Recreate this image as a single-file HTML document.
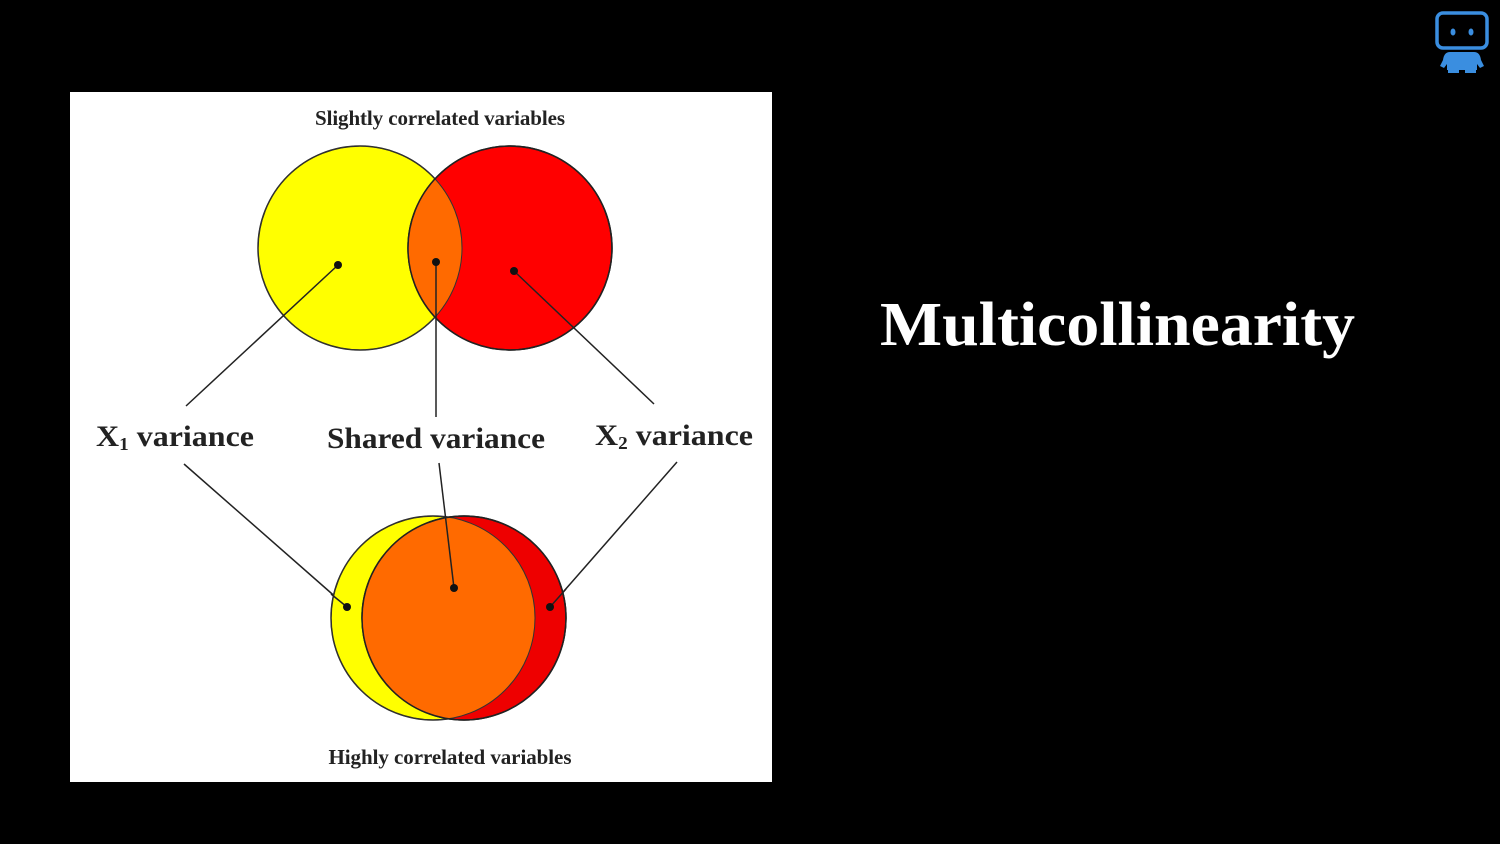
<!DOCTYPE html>
<html><head><style>
html,body{margin:0;padding:0;background:#000;width:1500px;height:844px;overflow:hidden}
</style></head><body>
<svg width="1500" height="844" xmlns="http://www.w3.org/2000/svg" style="position:absolute;left:0;top:0">
<defs>
<clipPath id="cy1"><circle cx="360" cy="248" r="102"/></clipPath>
<clipPath id="cy2"><circle cx="433" cy="618" r="102"/></clipPath>
</defs>
<rect x="70" y="92" width="702" height="690" fill="#fff"/>
<text x="440" y="125" text-anchor="middle" font-family="Liberation Serif, serif" font-size="21" font-weight="bold" fill="#222" textLength="250">Slightly correlated variables</text>
<circle cx="360" cy="248" r="102" fill="#ffff00" stroke="#222" stroke-width="1.5"/>
<circle cx="510" cy="248" r="102" fill="#ff0000" stroke="#222" stroke-width="1.5"/>
<circle cx="510" cy="248" r="102" fill="#ff6a00" clip-path="url(#cy1)"/>
<circle cx="360" cy="248" r="102" fill="none" stroke="#333" stroke-width="1"/>
<circle cx="510" cy="248" r="102" fill="none" stroke="#222" stroke-width="1.5"/>
<g stroke="#222" stroke-width="1.5">
<line x1="186" y1="406" x2="338" y2="265"/>
<line x1="436" y1="262" x2="436" y2="417"/>
<line x1="514" y1="271" x2="654" y2="404"/>
<line x1="184" y1="464" x2="347" y2="607"/>
<line x1="677" y1="462" x2="550" y2="607"/>
</g>
<g fill="#111">
<circle cx="338" cy="265" r="4"/><circle cx="436" cy="262" r="4"/><circle cx="514" cy="271" r="4"/>
</g>
<circle cx="433" cy="618" r="102" fill="#ffff00" stroke="#222" stroke-width="1.5"/>
<circle cx="464" cy="618" r="102" fill="#ee0000" stroke="#222" stroke-width="1.5"/>
<circle cx="464" cy="618" r="102" fill="#ff6a00" clip-path="url(#cy2)"/>
<circle cx="433" cy="618" r="102" fill="none" stroke="#333" stroke-width="1"/>
<circle cx="464" cy="618" r="102" fill="none" stroke="#222" stroke-width="1.5"/>
<g stroke="#222" stroke-width="1.5">
<line x1="331" y1="594" x2="347" y2="607"/>
<line x1="566" y1="589" x2="550" y2="607"/>
<line x1="439" y1="463" x2="454" y2="588"/>
</g>
<g fill="#111"><circle cx="347" cy="607" r="4"/><circle cx="454" cy="588" r="4"/><circle cx="550" cy="607" r="4"/></g>
<g font-family="Liberation Serif, serif" font-size="30" font-weight="bold" fill="#222">
<text x="96" y="446" textLength="158" lengthAdjust="spacingAndGlyphs">X<tspan font-size="18" dy="4">1</tspan><tspan dy="-4"> variance</tspan></text>
<text x="327" y="448" textLength="218" lengthAdjust="spacingAndGlyphs">Shared variance</text>
<text x="595" y="445" textLength="158" lengthAdjust="spacingAndGlyphs">X<tspan font-size="18" dy="4">2</tspan><tspan dy="-4"> variance</tspan></text>
</g>
<text x="450" y="764" text-anchor="middle" font-family="Liberation Serif, serif" font-size="21" font-weight="bold" fill="#222" textLength="243">Highly correlated variables</text>
<text x="880" y="345" font-family="Liberation Serif, serif" font-size="62" font-weight="bold" fill="#fff" textLength="475" lengthAdjust="spacingAndGlyphs">Multicollinearity</text>
<g fill="#3a8ee0">
<rect x="1437" y="13" width="50" height="35" rx="6" fill="none" stroke="#3a8ee0" stroke-width="3.5"/>
<ellipse cx="1453" cy="32" rx="2.5" ry="3.5"/><ellipse cx="1471" cy="32" rx="2.5" ry="3.5"/>
<path d="M1450 52 H1474 Q1480 52 1481 60 L1484 66 L1480 68 L1477 64 V70 H1447 V64 L1444 68 L1440 66 L1443 60 Q1444 52 1450 52Z"/>
<rect x="1448" y="68" width="11" height="5"/><rect x="1465" y="68" width="11" height="5"/>
</g>
</svg>
</body></html>
